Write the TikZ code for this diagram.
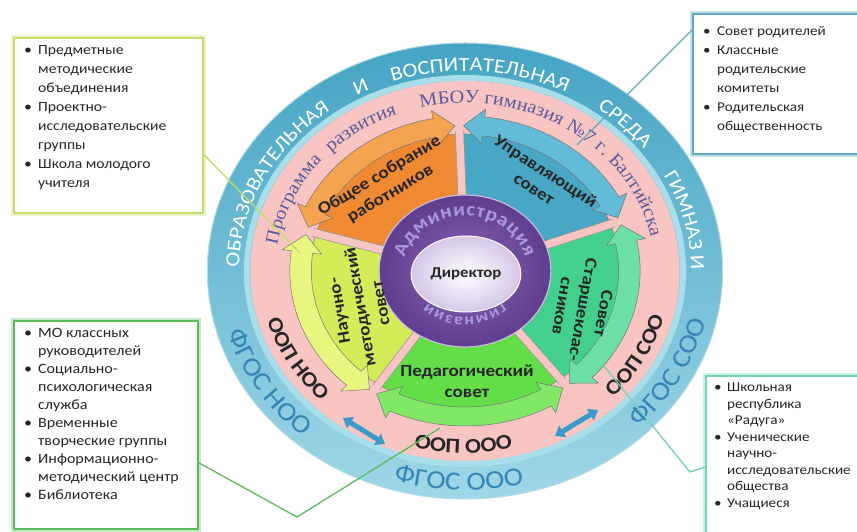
\documentclass[tikz,border=0pt]{standalone}
\usepackage{fontspec}
\setmainfont{Carlito}[FakeStretch=1.12]
\newfontfamily\serifru{Liberation Serif}[FakeStretch=1.1]
\usetikzlibrary{decorations.text,arrows.meta,shapes.geometric}
\definecolor{ringtop}{HTML}{45A4C4}
\definecolor{ringbot}{HTML}{9FD7E7}
\definecolor{ringlight}{HTML}{A8DDEA}
\definecolor{pinkband}{HTML}{F8C5C3}
\definecolor{orangeS}{HTML}{EF8A32}
\definecolor{orangeB}{HTML}{F4A44E}
\definecolor{blueS}{HTML}{47A7C5}
\definecolor{blueB}{HTML}{62BCD8}
\definecolor{seaS}{HTML}{43D08F}
\definecolor{seaB}{HTML}{6BDEAA}
\definecolor{greenS}{HTML}{63DD48}
\definecolor{greenB}{HTML}{80E866}
\definecolor{yelS}{HTML}{D3EC58}
\definecolor{yelB}{HTML}{E8F57E}
\definecolor{purpleL}{HTML}{8C63B9}
\definecolor{purpleD}{HTML}{5E3E8E}
\definecolor{lav}{HTML}{A898DA}
\definecolor{dirC}{HTML}{D5C7E8}
\definecolor{serifcol}{HTML}{5A5A9C}
\definecolor{fgoscol}{HTML}{3585B5}
\definecolor{arrowblue}{HTML}{3A9BCB}
\definecolor{cOne}{HTML}{C2DC6A}
\definecolor{cTwo}{HTML}{5FA9BE}
\definecolor{cThree}{HTML}{5DBB5D}
\definecolor{cFour}{HTML}{74D3B3}
\newcommand\bu{\makebox[14pt][l]{\textbullet}}
\newcommand\ind{\hspace*{14pt}}
\newcommand\bux{\makebox[13pt][l]{\textbullet}}
\newcommand\indx{\hspace*{13pt}}
\newcommand\fOuter{\fontsize{20}{20}\selectfont}
\newcommand\fPink{\serifru\fontsize{18.5}{18.5}\selectfont}
\newcommand\fFgos{\fontsize{26}{26}\selectfont}
\newcommand\fOop{\bfseries\fontsize{21}{21}\selectfont}
\newcommand\fAdm{\bfseries\fontsize{19}{19}\selectfont}
\newcommand\fGim{\bfseries\fontsize{16}{16}\selectfont}
\newcommand\wedgefill[3]{\filldraw[fill=#3, draw=black!50, line width=0.5pt] (0,0) -- (#1:137) arc[start angle=#1, end angle=#2, radius=137] -- cycle;}
\newcommand\bandarrow[3]{%
 \filldraw[fill=#3, draw=black!55, line width=0.5pt, line join=round]
 ({#1+7}:136) arc[start angle={#1+7}, end angle={#2-7}, radius=136]
 -- ({#2-7}:128) -- (#2:145.5) -- ({#2-7}:163) -- ({#2-7}:155)
 arc[start angle={#2-7}, end angle={#1+7}, radius=155]
 -- ({#1+7}:163) -- (#1:145.5) -- ({#1+7}:128) -- cycle;}
% outer-ring word, centred on angle #1 (clockwise arc)
\newcommand\outerword[2]{\path[decorate, decoration={text along path, text color=white, text align=center,
   text={|\fOuter|#2}}] ({#1+32}:200) arc[start angle={#1+32}, end angle={#1-32}, radius=200];}
\tikzset{
 box/.style={draw=#1, line width=2.2pt, fill=white, preaction={draw=#1!35, line width=6pt}, anchor=north west, inner sep=0pt},
 listtxt/.style={align=left, inner sep=0pt, anchor=north west, text=black!85},
 conn/.style={draw=#1, line width=1.3pt},
 lbl/.style={align=center, font=\bfseries\fontsize{17}{21}\selectfont, text=black!85, inner sep=1pt},
 dblarr/.style={draw=arrowblue, line width=5pt, arrows={Triangle[width=13pt,length=9pt]-Triangle[width=13pt,length=9pt]}}
}
\begin{document}
\begin{tikzpicture}[x=1pt,y=1pt]
\useasboundingbox (-465,-261) rectangle (392,271);
\clip (-465,-261) rectangle (392,271);
\fill[white] (-465,-261) rectangle (392,271);
\begin{scope}[xscale=1.13]
 \shade[top color=ringtop, bottom color=ringbot] (0,0) circle (228);
 \draw[white!60!ringtop, line width=1pt] (0,0) circle (228);
 \draw[ringlight, line width=6pt] (0,0) circle (193);
 \fill[pinkband] (0,0) circle (190);
 % sectors
 \wedgefill{92}{164}{orangeS}
 \wedgefill{164}{236}{yelS}
 \wedgefill{236}{308}{greenS}
 \wedgefill{308}{380}{seaS}
 \wedgefill{20}{92}{blueS}
 \foreach \a in {20,92,164,236,308} {
  \draw[line width=9pt, black!40] (\a:70) -- (\a:140);
  \draw[line width=7.5pt, pinkband] (\a:70) -- (\a:150);
 }
 % arrow bands
 \bandarrow{93.5}{162.5}{orangeB}
 \bandarrow{165.5}{234.5}{yelB}
 \bandarrow{237.5}{306.5}{greenB}
 \bandarrow{309.5}{378.5}{seaB}
 \bandarrow{21.5}{90.5}{blueB}
 % purple ring
 \shade[inner color=purpleL, outer color=purpleD] (0,0) circle (76);
 \draw[white!55!purpleL, line width=1.2pt] (0,0) circle (76);
 % outer ring texts
 \outerword{153}{ОБРАЗОВАТЕЛЬНАЯ}
 \outerword{117.5}{И}
 \outerword{86}{ВОСПИТАТЕЛЬНАЯ}
 \outerword{45}{СРЕДА}
 \outerword{14}{ГИМНАЗ И}
 \path[decorate, decoration={text along path, text color=fgoscol, text align=center, text={|\fFgos|ФГОС НОО}}]
   (187:219) arc[start angle=187, end angle=238, radius=219];
 \path[decorate, decoration={text along path, text color=fgoscol, text align=center, text={|\fFgos|ФГОС ООО}}]
   (243:219) arc[start angle=243, end angle=294, radius=219];
 \path[decorate, decoration={text along path, text color=fgoscol, text align=center, text={|\fFgos|ФГОС СОО}}]
   (305:219) arc[start angle=305, end angle=357, radius=219];
 % pink band texts
 \path[decorate, decoration={text along path, text color=serifcol, text align=center, text={|\fPink|Программа}}]
   (172:168) arc[start angle=172, end angle=138, radius=168];
 \path[decorate, decoration={text along path, text color=serifcol, text align=center, text={|\fPink|развития}}]
   (137:168) arc[start angle=137, end angle=109, radius=168];
 \path[decorate, decoration={text along path, text color=serifcol, text align=center, text={|\fPink|МБОУ гимназия №7 г. Балтийска}}]
   (105:168) arc[start angle=105, end angle=10, radius=168];
 \path[decorate, decoration={text along path, text color=black!85, text align=center, text={|\fOop|ООП НОО}}]
   (188:182) arc[start angle=188, end angle=233, radius=182];
 \path[decorate, decoration={text along path, text color=black!85, text align=center, text={|\fOop|ООП ООО}}]
   (247:182) arc[start angle=247, end angle=292, radius=182];
 \path[decorate, decoration={text along path, text color=black!85, text align=center, text={|\fOop|ООП СОО}}]
   (308:182) arc[start angle=308, end angle=354, radius=182];
 % purple ring texts
 \path[decorate, decoration={text along path, text color=lav, text align={fit to path}, text={|\fAdm|Администрация}}]
   (166:55) arc[start angle=166, end angle=14, radius=55];
 \path[decorate, decoration={text along path, text color=lav, text align={fit to path}, text={|\fGim|гимназии}}]
   (316:46) arc[start angle=316, end angle=224, radius=46];
\end{scope}
% director
\node[ellipse, minimum width=94pt, minimum height=76pt, shade, inner color=white, outer color=dirC,
  draw=white, line width=1pt, font=\bfseries\fontsize{15}{15}\selectfont, text=black!85] (dir) at (1,-3) {Директор};
% sector labels
\node[lbl, rotate=31] (sOrange) at (-80,86) {Общее собрание\\работников};
\node[lbl, rotate=-33] (sBlue) at (75,91) {Управляющий\\совет};
\node[lbl, rotate=100] (sYel) at (-105,-36) {Научно-\\методический\\совет};
\node[lbl] (sGreen) at (2,-110) {Педагогический\\совет};
\node[lbl, rotate=-100] (sSea) at (118,-39) {Совет\\Старшеклас-\\сников};
% double arrows
\coordinate (daA) at (-122,-147);
\coordinate (daB) at (-80,-173);
\coordinate (daC) at (90,-165);
\coordinate (daD) at (133,-139);
\draw[dblarr] (daA) -- (daB);
\draw[dblarr] (daC) -- (daD);
% boxes
\node[box=cOne, minimum width=189pt, minimum height=175pt] (b1) at (-452,234) {};
\node[box=cTwo, minimum width=172pt, minimum height=140pt] (b2) at (227,258) {};
\node[box=cThree, minimum width=184pt, minimum height=208pt] (b3) at (-452,-49) {};
\node[box=cFour, minimum width=160pt, minimum height=172pt] (b4) at (240,-104) {};
\node[listtxt, font=\fontsize{14}{19}\selectfont] (t1) at (-441,226) {\bu Предметные\\\ind методические\\\ind объединения\\\bu Проектно-\\\ind исследовательские\\\ind группы\\\bu Школа молодого\\\ind учителя};
\node[listtxt, font=\fontsize{13.5}{19}\selectfont] (t2) at (238,245) {\bu Совет родителей\\\bu Классные\\\ind родительские\\\ind комитеты\\\bu Родительская\\\ind общественность};
\node[listtxt, font=\fontsize{14.3}{18}\selectfont] (t3) at (-441,-57) {\bu МО классных\\\ind руководителей\\\bu Социально-\\\ind психологическая\\\ind служба\\\bu Временные\\\ind творческие группы\\\bu Информационно-\\\ind методический центр\\\bu Библиотека};
\node[listtxt, font=\fontsize{13.5}{16.5}\selectfont] (t4) at (249,-112) {\bux Школьная\\\indx республика\\\indx «Радуга»\\\bux Ученические\\\indx научно-\\\indx исследовательские\\\indx общества\\\bux Учащиеся};
% connectors
\coordinate (yOne) at (0,116);
\coordinate (eOne) at (-165,18);
\draw[conn=cOne] (b1.east |- yOne) -- (eOne);
\coordinate (yTwo) at (0,241);
\coordinate (eTwo) at (112,126);
\draw[conn=cTwo] (b2.west |- yTwo) -- (eTwo);
\coordinate (yThree) at (0,-192);
\coordinate (mThree) at (-168,-246);
\coordinate (eThree) at (-25,-157);
\draw[conn=cThree] (b3.east |- yThree) -- (mThree) -- (eThree);
\coordinate (yFour) at (0,-196);
\coordinate (mFour) at (225,-201);
\coordinate (eFour) at (139,-95);
\draw[conn=cFour] (b4.west |- yFour) -- (mFour) -- (eFour);
\end{tikzpicture}
\end{document}
